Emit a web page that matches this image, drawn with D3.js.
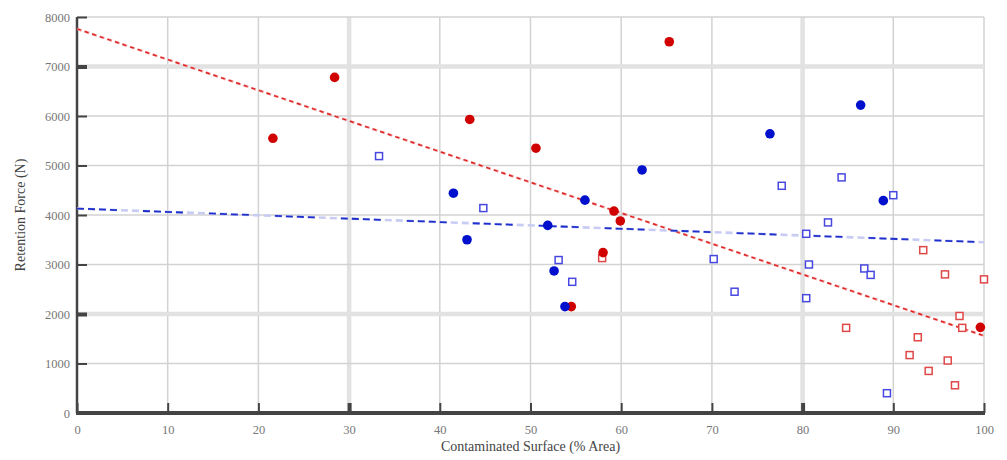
<!DOCTYPE html>
<html>
<head>
<meta charset="utf-8">
<script src="https://cdn.jsdelivr.net/npm/d3@7"></script>
<style>
  body { margin: 0; background: #fff; }
  text { font-family: "Liberation Serif", "DejaVu Serif", serif; }
</style>
</head>
<body>
<div id="chart"></div>
<script>
// values
const redFilled = [
  [21.6, 5550], [28.4, 6780], [43.3, 5930], [50.6, 5350], [65.3, 7500],
  [59.2, 4080], [59.9, 3880], [58.0, 3240], [54.5, 2150], [99.6, 1730]
];
const redOpen = [
  [57.9, 3130], [93.3, 3290], [95.7, 2800], [100, 2700], [97.3, 1960],
  [97.6, 1720], [84.8, 1720], [92.7, 1530], [91.8, 1170], [96.0, 1060],
  [93.9, 850], [96.8, 560]
];
const blueFilled = [
  [41.5, 4440], [43.0, 3500], [51.9, 3790], [52.6, 2870], [53.8, 2150],
  [56.0, 4300], [62.3, 4910], [76.4, 5640], [86.4, 6220], [88.9, 4290]
];
const blueOpen = [
  [33.3, 5190], [44.8, 4140], [53.1, 3090], [54.6, 2650], [70.2, 3110],
  [72.5, 2450], [77.7, 4590], [80.4, 3620], [80.7, 3000], [80.4, 2320],
  [82.8, 3850], [84.3, 4760], [86.8, 2920], [87.5, 2790], [90.0, 4400],
  [89.3, 400]
];
const redTrend = [[0, 7760], [100, 1560]];
const blueTrend = [[0, 4130], [100, 3450]];
const xTicks = [0, 10, 20, 30, 40, 50, 60, 70, 80, 90, 100];
const yTicks = [0, 1000, 2000, 3000, 4000, 5000, 6000, 7000, 8000];
const heavyX = [30, 80];
const heavyY = [2000, 7000];

const W = 1007, H = 460;
const margin = { top: 17, right: 23, bottom: 47, left: 77 };
const width = W - margin.left - margin.right;
const height = H - margin.top - margin.bottom;

const svg = d3.select("#chart").append("svg")
  .attr("width", W)
  .attr("height", H);

const g = svg.append("g")
  .attr("transform", `translate(${margin.left},${margin.top})`);

const x = d3.scaleLinear().domain([0, 100]).range([0, width]);
const y = d3.scaleLinear().domain([0, 8000]).range([height, 0]);

// grid
xTicks.forEach(d => {
  g.append("line")
    .attr("x1", x(d)).attr("x2", x(d))
    .attr("y1", 0).attr("y2", height)
    .attr("stroke", heavyX.includes(d) ? "#e2e2e2" : "#d2d2d2")
    .attr("stroke-width", heavyX.includes(d) ? 4.5 : 1.5);
});
yTicks.forEach(d => {
  g.append("line")
    .attr("x1", 0).attr("x2", width)
    .attr("y1", y(d)).attr("y2", y(d))
    .attr("stroke", heavyY.includes(d) ? "#e2e2e2" : "#d2d2d2")
    .attr("stroke-width", heavyY.includes(d) ? 4.5 : 1.5);
});

// axes
const xAxis = g.append("g")
  .attr("transform", `translate(0,${height})`)
  .call(d3.axisBottom(x).tickValues(xTicks).tickSize(-10).tickPadding(14));
const yAxis = g.append("g")
  .call(d3.axisLeft(y).tickValues(yTicks).tickFormat(d3.format("d")).tickSize(-10).tickPadding(7));

[xAxis, yAxis].forEach(a => {
  a.select(".domain").remove();
  a.selectAll("text")
    .attr("fill", "#777")
    .style("font-size", "12.5px");
});
// left axis labels sit outside the plot, ticks point inward
yAxis.selectAll(".tick text").attr("x", -7);
xAxis.selectAll(".tick line")
  .attr("stroke", "#444")
  .attr("stroke-width", d => heavyX.includes(d) ? 4 : 2);
yAxis.selectAll(".tick line")
  .attr("stroke", "#444")
  .attr("stroke-width", d => heavyY.includes(d) ? 4 : 2);
xAxis.selectAll(".tick text").attr("y", 12);

g.append("line")
  .attr("x1", 0).attr("x2", 0)
  .attr("y1", 0).attr("y2", height)
  .attr("stroke", "#444").attr("stroke-width", 2.5);
g.append("line")
  .attr("x1", -1).attr("x2", width + 1)
  .attr("y1", height).attr("y2", height)
  .attr("stroke", "#444").attr("stroke-width", 4);

// trend lines
const line = d3.line().x(d => x(d[0])).y(d => y(d[1]));
g.append("path").datum(redTrend)
  .attr("d", line)
  .attr("fill", "none")
  .attr("stroke", "#f4a8a8")
  .attr("stroke-width", 2.5)
  .attr("stroke-dasharray", "5,3");
g.append("path").datum(redTrend)
  .attr("d", line)
  .attr("fill", "none")
  .attr("stroke", "#dd2222")
  .attr("stroke-width", 1.4)
  .attr("stroke-dasharray", "4,4");
g.append("path").datum(blueTrend)
  .attr("d", line)
  .attr("fill", "none")
  .attr("stroke", "#c8ccf2")
  .attr("stroke-width", 2.6)
  .attr("stroke-dasharray", "7,4");
g.append("path").datum(blueTrend)
  .attr("d", line)
  .attr("fill", "none")
  .attr("stroke", "#2030cc")
  .attr("stroke-width", 1.8)
  .attr("stroke-dasharray", "7,4,7,4,7,4,7,4,0,22");

// markers
function openSquares(data, color) {
  g.selectAll(null).data(data).enter().append("rect")
    .attr("x", d => x(d[0]) - 3.5)
    .attr("y", d => y(d[1]) - 3.5)
    .attr("width", 7).attr("height", 7)
    .attr("fill", "#fff")
    .attr("stroke", color)
    .attr("stroke-width", 1.5);
}
function filledDots(data, color) {
  g.selectAll(null).data(data).enter().append("circle")
    .attr("cx", d => x(d[0]))
    .attr("cy", d => y(d[1]))
    .attr("r", 4.8)
    .attr("fill", color);
}
openSquares(redOpen, "#e04848");
openSquares(blueOpen, "#4848e0");
filledDots(redFilled, "#d00000");
filledDots(blueFilled, "#0010cc");

// axis titles
svg.append("text")
  .attr("x", margin.left + width / 2)
  .attr("y", H - 9)
  .attr("text-anchor", "middle")
  .attr("fill", "#444")
  .style("font-size", "14px")
  .text("Contaminated Surface (% Area)");
svg.append("text")
  .attr("transform", `translate(25,${margin.top + height / 2}) rotate(-90)`)
  .attr("text-anchor", "middle")
  .attr("fill", "#444")
  .style("font-size", "14px")
  .text("Retention Force (N)");
</script>
</body>
</html>
